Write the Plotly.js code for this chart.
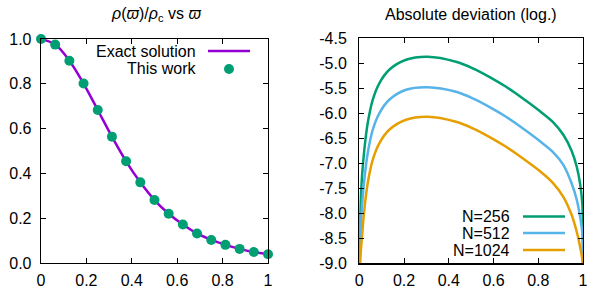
<!DOCTYPE html>
<html>
<head>
<meta charset="utf-8">
<script src="https://cdn.plot.ly/plotly-3.0.1.min.js"></script>
<style>
html,body{margin:0;padding:0;background:#fff;}
#chart{width:598px;height:292px;}
</style>
</head>
<body>
<div id="chart"></div>
<script>
// ---- Left panel data: rho(varpi)/rho_c ----
const omega = [0, 0.0625, 0.125, 0.1875, 0.25, 0.3125, 0.375, 0.4375, 0.5, 0.5625, 0.625, 0.6875, 0.75, 0.8125, 0.875, 0.9375, 1.0];
const rhoExact = [1.0, 0.975, 0.903, 0.801, 0.683, 0.564, 0.454, 0.360, 0.281, 0.220, 0.172, 0.132, 0.103, 0.081, 0.063, 0.049, 0.039];
const rhoThisWork = [1.0, 0.975, 0.903, 0.801, 0.683, 0.564, 0.454, 0.360, 0.281, 0.220, 0.172, 0.132, 0.103, 0.081, 0.063, 0.049, 0.039];

// ---- Right panel data: log10 absolute deviation ----
const xDev = [0, 0.0045, 0.012, 0.0224, 0.0375, 0.060, 0.0894, 0.134, 0.209, 0.306, 0.432, 0.507, 0.581, 0.656, 0.730, 0.808, 0.867, 0.912, 0.949, 0.972, 0.987, 0.997, 1.0];
const dev256 = [-10.0, -7.93, -7.27, -6.73, -6.20, -5.73, -5.40, -5.13, -4.93, -4.87, -4.97, -5.10, -5.27, -5.47, -5.70, -5.96, -6.18, -6.43, -6.75, -7.07, -7.41, -7.82, -9.5];
const dev512 = [-10.5, -8.47, -7.87, -7.33, -6.80, -6.33, -6.00, -5.73, -5.53, -5.48, -5.57, -5.70, -5.87, -6.07, -6.30, -6.56, -6.78, -7.03, -7.40, -7.73, -8.07, -8.40, -9.8];
const dev1024 = [-11.0, -8.93, -8.47, -7.93, -7.40, -6.93, -6.60, -6.33, -6.13, -6.07, -6.17, -6.30, -6.47, -6.67, -6.90, -7.16, -7.40, -7.67, -8.03, -8.37, -8.67, -8.93, -10.0];

// ---- tick labels ----
const xTickVals = [0, 0.2, 0.4, 0.6, 0.8, 1];
const xTickText = ["0", "0.2", "0.4", "0.6", "0.8", "1"];
const yLeftVals = [0, 0.2, 0.4, 0.6, 0.8, 1.0];
const yLeftText = ["0.0", "0.2", "0.4", "0.6", "0.8", "1.0"];
const yRightVals = [-9, -8.5, -8, -7.5, -7, -6.5, -6, -5.5, -5, -4.5];
const yRightText = ["-9.0", "-8.5", "-8.0", "-7.5", "-7.0", "-6.5", "-6.0", "-5.5", "-5.0", "-4.5"];

const names = ["Exact solution", "This work", "N=256", "N=512", "N=1024"];
const cPurple = "#9400d3", cGreen = "#009e73", cBlue = "#56b4e9", cOrange = "#e69f00";

const W = 598, H = 292;
const px = v => v / W;
const py = v => 1 - v / H;

const traces = [
  {x: omega, y: rhoExact, type: "scatter", mode: "lines", name: names[0],
   line: {color: cPurple, width: 2.5, shape: "spline"}, xaxis: "x", yaxis: "y", showlegend: false},
  {x: omega, y: rhoThisWork, type: "scatter", mode: "markers", name: names[1],
   marker: {color: cGreen, size: 10}, xaxis: "x", yaxis: "y", showlegend: false, cliponaxis: false},
  {x: xDev, y: dev256, type: "scatter", mode: "lines", name: names[2],
   line: {color: cGreen, width: 2.5, shape: "spline", smoothing: 0.8}, xaxis: "x2", yaxis: "y2", showlegend: false},
  {x: xDev, y: dev512, type: "scatter", mode: "lines", name: names[3],
   line: {color: cBlue, width: 2.5, shape: "spline", smoothing: 0.8}, xaxis: "x2", yaxis: "y2", showlegend: false},
  {x: xDev, y: dev1024, type: "scatter", mode: "lines", name: names[4],
   line: {color: cOrange, width: 2.5, shape: "spline", smoothing: 0.8}, xaxis: "x2", yaxis: "y2", showlegend: false}
];

const axisCommon = {
  showline: true, linecolor: "#000", linewidth: 1.3, mirror: "allticks",
  ticks: "inside", ticklen: 5, tickwidth: 1, tickcolor: "#000",
  showgrid: false, zeroline: false, tickmode: "array",
  tickfont: {family: "Liberation Sans, Arial, sans-serif", size: 16, color: "#000"}
};

const font = {family: "Liberation Sans, Arial, sans-serif", size: 16, color: "#000"};

const layout = {
  width: W, height: H,
  margin: {l: 0, r: 0, t: 0, b: 0},
  paper_bgcolor: "#fff", plot_bgcolor: "#fff",
  font: font,
  showlegend: false,
  xaxis: Object.assign({}, axisCommon, {domain: [px(41), px(268)], range: [0, 1], tickvals: xTickVals, ticktext: xTickText, anchor: "y", ticklabelstandoff: 2}),
  yaxis: Object.assign({}, axisCommon, {domain: [1 - 263 / H, 1 - 39 / H], range: [0, 1], tickvals: yLeftVals, ticktext: yLeftText, anchor: "x", ticklabelstandoff: 5}),
  xaxis2: Object.assign({}, axisCommon, {domain: [px(359.3), px(583)], range: [0, 1], tickvals: xTickVals, ticktext: xTickText, anchor: "y2", ticklabelstandoff: 2}),
  yaxis2: Object.assign({}, axisCommon, {domain: [1 - 263.3 / H, 1 - 38.3 / H], range: [-9, -4.5], tickvals: yRightVals, ticktext: yRightText, anchor: "x2", ticklabelstandoff: 8}),
  annotations: [
    {text: "<i>ρ</i>(<i>ϖ</i>)/<i>ρ</i><sub>c</sub> vs <i>ϖ</i>", xref: "paper", yref: "paper", x: px(156), y: py(15), xanchor: "center", yanchor: "middle", showarrow: false, font: font},
    {text: "Absolute deviation (log.)", xref: "paper", yref: "paper", x: px(471), y: py(15), xanchor: "center", yanchor: "middle", showarrow: false, font: font},
    {text: names[0], xref: "paper", yref: "paper", x: px(198), y: py(51), xanchor: "right", yanchor: "middle", showarrow: false, font: font},
    {text: names[1], xref: "paper", yref: "paper", x: px(198), y: py(69), xanchor: "right", yanchor: "middle", showarrow: false, font: font},
    {text: names[2], xref: "paper", yref: "paper", x: px(512), y: py(216.5), xanchor: "right", yanchor: "middle", showarrow: false, font: font},
    {text: names[3], xref: "paper", yref: "paper", x: px(512), y: py(233), xanchor: "right", yanchor: "middle", showarrow: false, font: font},
    {text: names[4], xref: "paper", yref: "paper", x: px(512), y: py(250), xanchor: "right", yanchor: "middle", showarrow: false, font: font}
  ],
  shapes: [
    {type: "line", xref: "paper", yref: "paper", x0: px(208), x1: px(250), y0: py(51), y1: py(51), line: {color: cPurple, width: 2.5}},
    {type: "circle", xref: "paper", yref: "paper", xsizemode: "pixel", ysizemode: "pixel", xanchor: px(229), yanchor: py(69), x0: -5, x1: 5, y0: -5, y1: 5, fillcolor: cGreen, line: {width: 0}},
    {type: "line", xref: "paper", yref: "paper", x0: px(523), x1: px(565), y0: py(216.5), y1: py(216.5), line: {color: cGreen, width: 2.5}},
    {type: "line", xref: "paper", yref: "paper", x0: px(523), x1: px(565), y0: py(233), y1: py(233), line: {color: cBlue, width: 2.5}},
    {type: "line", xref: "paper", yref: "paper", x0: px(523), x1: px(565), y0: py(250), y1: py(250), line: {color: cOrange, width: 2.5}}
  ]
};

Plotly.newPlot("chart", traces, layout, {staticPlot: true, displayModeBar: false});
</script>
</body>
</html>
